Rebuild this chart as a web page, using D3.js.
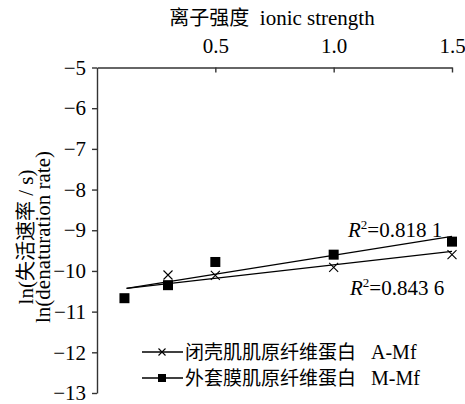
<!DOCTYPE html>
<html>
<head>
<meta charset="utf-8">
<script src="https://cdn.jsdelivr.net/npm/d3@7"></script>
<style>
  body { margin: 0; background: #fff; }
  text { font-family: "Liberation Serif", "Times New Roman", "Noto Sans CJK SC", serif; fill: #000; }
  .cjk { font-family: "Noto Sans CJK SC", sans-serif; font-size: 20px; }
  .legend .cjk { font-size: 19px; }
</style>
</head>
<body>
<div id="chart"></div>
<script>
// ionic strength values
var xA = [0.3, 0.5, 1.0, 1.5];
var yA = [-10.10, -10.11, -9.91, -9.60];          // A-Mf
var xM = [0.116, 0.3, 0.5, 1.0, 1.5];
var yM = [-10.67, -10.35, -9.78, -9.60, -9.28];   // M-Mf
// trend lines (start, end)
var trendX = [0.125, 1.5];
var trendA = [-10.43, -9.52];
var trendM = [-10.43, -9.15];
var xTicks = [0.5, 1.0, 1.5];
var yTicks = [-5, -6, -7, -8, -9, -10, -11, -12, -13];

var W = 465, H = 404;
var svg = d3.select("#chart").append("svg")
    .attr("width", W).attr("height", H);

var x = d3.scaleLinear().domain([0, 1.5]).range([97, 452]);
var y = d3.scaleLinear().domain([-13, -5]).range([393, 67.5]);
var axisColor = "#333";

// top x axis, ticks pointing inward
var gx = svg.append("g").attr("transform", "translate(0," + y(-5) + ")")
    .call(d3.axisTop(x).tickValues(xTicks).tickFormat(d3.format(".1f"))
        .tickSizeInner(-5).tickSizeOuter(0).tickPadding(14.5));
gx.selectAll("text").style("font-size", "21px");

// left y axis
var gy = svg.append("g").attr("transform", "translate(" + x(0) + ",0)")
    .call(d3.axisLeft(y).tickValues(yTicks).tickFormat(d3.format("d"))
        .tickSize(5).tickSizeOuter(0).tickPadding(6));
gy.selectAll("text").style("font-size", "21px");

svg.selectAll(".domain, .tick line").attr("stroke", axisColor).attr("stroke-width", 1.4);

// mixed CJK / Latin text helper
function label(sel, parts) {
  parts.forEach(function (p) {
    var t = sel.append("tspan").text(p[0]);
    if (p[1]) t.attr("class", "cjk");
  });
  return sel;
}

// axis titles
label(svg.append("text").attr("x", 272).attr("y", 25).attr("text-anchor", "middle")
    .style("font-size", "21px"), [["离子强度", 1], ["\u00a0\u00a0ionic strength"]]);

var yt = svg.append("g").attr("transform", "translate(0,237) rotate(-90)");
label(yt.append("text").attr("x", 0).attr("y", 33).attr("text-anchor", "middle")
    .style("font-size", "21px"), [["ln("], ["失活速率", 1], [" / s)"]]);
yt.append("text").attr("x", 0).attr("y", 50).attr("text-anchor", "middle")
    .style("font-size", "21px").text("ln(denaturation rate)");

// trend lines
var line = d3.line().x(function (d) { return x(d[0]); }).y(function (d) { return y(d[1]); });
svg.append("path").datum(d3.zip(trendX, trendM)).attr("d", line)
    .attr("fill", "none").attr("stroke", "#000").attr("stroke-width", 1.3);
svg.append("path").datum(d3.zip(trendX, trendA)).attr("d", line)
    .attr("fill", "none").attr("stroke", "#000").attr("stroke-width", 1.3);

// markers
function cross(g, cx, cy, s) {
  g.append("path")
    .attr("d", "M" + (cx - s) + "," + (cy - s) + "L" + (cx + s) + "," + (cy + s) +
               "M" + (cx - s) + "," + (cy + s) + "L" + (cx + s) + "," + (cy - s))
    .attr("stroke", "#000").attr("stroke-width", 1.1).attr("fill", "none");
}
d3.zip(xA, yA).forEach(function (d) { cross(svg, x(d[0]), y(d[1]), 4.5); });
svg.selectAll("rect.m").data(d3.zip(xM, yM)).enter().append("rect")
    .attr("x", function (d) { return x(d[0]) - 5; })
    .attr("y", function (d) { return y(d[1]) - 5; })
    .attr("width", 10).attr("height", 10).attr("fill", "#000");

// R² labels
function r2(tx, ty, val) {
  var t = svg.append("text").attr("x", tx).attr("y", ty).style("font-size", "21px");
  t.append("tspan").style("font-style", "italic").text("R");
  t.append("tspan").attr("dy", -8).style("font-size", "13px").text("2");
  t.append("tspan").attr("dy", 8).text("=" + val);
}
r2(348, 237, "0.818 1");
r2(350, 295, "0.843 6");

// legend
var legend = [
  { cn: "闭壳肌肌原纤维蛋白", en: "\u00a0\u00a0\u00a0A-Mf", mark: "x", ly: 352 },
  { cn: "外套膜肌原纤维蛋白", en: "\u00a0\u00a0\u00a0M-Mf", mark: "s", ly: 378 }
];
var lg = svg.append("g").attr("class", "legend");
legend.forEach(function (d) {
  lg.append("line").attr("x1", 142).attr("x2", 183).attr("y1", d.ly).attr("y2", d.ly)
    .attr("stroke", "#000").attr("stroke-width", 1.3);
  if (d.mark === "x") cross(lg, 162, d.ly, 3.5);
  else lg.append("rect").attr("x", 158).attr("y", d.ly - 4).attr("width", 8).attr("height", 8).attr("fill", "#000");
  label(lg.append("text").attr("x", 185).attr("y", d.ly + 7).style("font-size", "20px"),
    [[d.cn, 1], [d.en]]);
});
</script>
</body>
</html>
